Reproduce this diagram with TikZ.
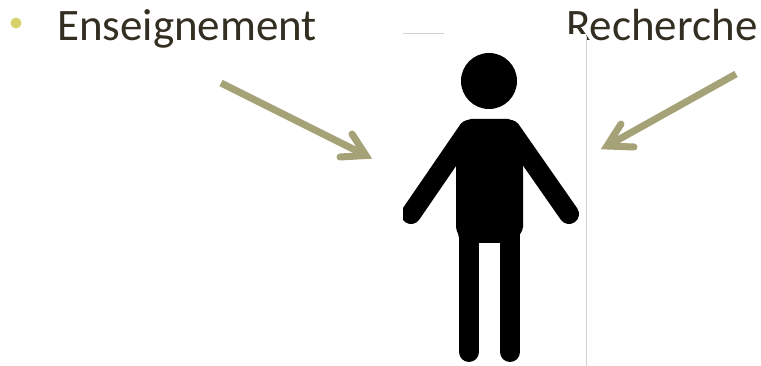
\documentclass[tikz,border=0pt]{standalone}
\usepackage{fontspec}
\setmainfont{Carlito}
\definecolor{inkc}{HTML}{332E22}
\definecolor{bulc}{HTML}{D8D26C}
\definecolor{arrc}{HTML}{A5A277}
\definecolor{rulec}{HTML}{D2D2D2}
\tikzset{
  label text/.style={inner sep=0pt,anchor=base west,text=inkc,font=\fontsize{45}{45}\selectfont},
  shaft/.style={draw=arrc,line width=7pt,line cap=butt},
  barb/.style={draw=arrc,line width=7pt,line cap=round,line join=miter},
  limb/.style={draw=black,line width=20pt,line cap=round},
  rule line/.style={draw=rulec,line width=1pt}
}
\begin{document}
\begin{tikzpicture}[x=1pt,y=-1pt]
\useasboundingbox (0,0) rectangle (761,366);
% bullet and labels
\fill[bulc] (16,23) circle (5.5);
\node[label text] (ens) at (57,41) {Enseignement};
\node[label text] (rec) at (566,41) {Recherche};
% white picture ground that cuts the foot of the R
\fill[white] (403,34) rectangle (586,366);
% thin rules
\coordinate (ra) at (586,36); \coordinate (rb) at (586,366);
\coordinate (rc) at (403,33.5); \coordinate (rd) at (444,33.5);
\draw[rule line] (ra) -- (rb);
\draw[rule line] (rc) -- (rd);
% person
\begin{scope}
\clip (403,40) rectangle (585,366);
\fill[black] (489,81) circle (28);
\fill[black,rounded corners=2pt] (456,150) -- (456,229) -- (459,236) -- (459,243) -- (519,243) -- (519,236) -- (523,229) -- (523,150) -- (518,124) -- (510,119) -- (469,119) -- (461,124) -- cycle;
\coordinate (sl) at (468.6,130); \coordinate (hl) at (411,214);
\coordinate (sr) at (510.4,130); \coordinate (hr) at (569,214);
\coordinate (ll) at (469,235); \coordinate (fl) at (469,352);
\coordinate (lr) at (510,235); \coordinate (fr) at (510,352);
\draw[limb] (sl) -- (hl);
\draw[limb] (sr) -- (hr);
\draw[limb] (ll) -- (fl);
\draw[limb] (lr) -- (fr);
\end{scope}
% arrows
\coordinate (a1) at (221,83); \coordinate (a2) at (366,155.5);
\coordinate (a3) at (352,134); \coordinate (a4) at (340,157);
\coordinate (b1) at (736,74); \coordinate (b2) at (607,146);
\coordinate (b3) at (621,124); \coordinate (b4) at (634,147);
\draw[shaft] (a1) -- (a2);
\draw[barb] (a3) -- (a2) -- (a4);
\draw[shaft] (b1) -- (b2);
\draw[barb] (b3) -- (b2) -- (b4);
\end{tikzpicture}
\end{document}
